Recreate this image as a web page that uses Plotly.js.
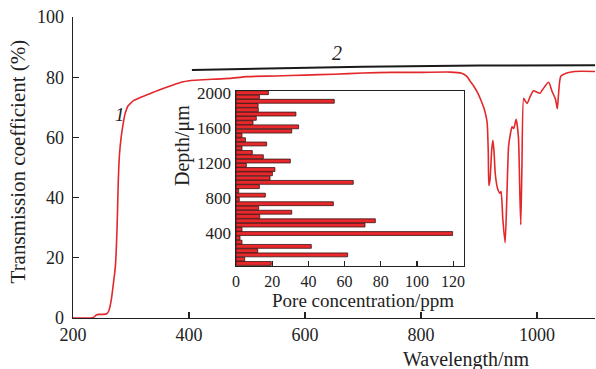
<!DOCTYPE html>
<html>
<head>
<meta charset="utf-8">
<script src="https://cdn.plot.ly/plotly-3.0.1.min.js"></script>
<style>html,body{margin:0;padding:0;background:#fff;}#chart{width:596px;height:369px;}</style>
</head>
<body>
<div id="chart"></div>
<script>
// Curve 1: transmission spectrum
var wavelength1 = [200,230,236,240,245,252,258,262,266,270,273,276,278,280,283,286,290,295,300,305,315,330,345,360,375,390,410,440,470,500,550,600,650,700,750,800,850,870,879,885,891,898,903,908,911,914,916,917,919,922,924,926,928,932,936,938,941,945,948,951,954,957,960,964,968,970,972,974,977,980,983,988,994,1000,1005,1010,1020,1026,1032,1035,1037,1041,1050,1065,1100];
var transmission1 = [0,0,0.3,1.0,1.2,1.2,1.4,2.5,6,12,17,30,45,54,60,64,68,70.5,71.5,72.3,73.2,74.3,75.5,76.6,77.6,78.5,79.0,79.3,79.6,80.2,80.4,80.7,81.0,81.4,81.6,81.6,81.7,81.3,80.3,78.6,77.0,74.7,72.5,70,68,65,55,44,46,56,59,55,48,43,41.5,42,33,25,40,57,61,63.5,63,66,60,45,31,50,73,72,71.3,73.5,75.5,75,74.7,76,78.3,75.3,72.6,69.5,74,80.3,81.3,81.9,81.9];
// Curve 2
var wavelength2 = [405,550,700,900,1100];
var transmission2 = [82.4,83.0,83.5,83.9,84.0];
// Inset: pore concentration vs depth
var depth = [48,97,146,194,243,292,341,390,438,487,536,585,634,682,731,780,829,878,926,975,1024,1073,1122,1170,1219,1268,1317,1366,1414,1463,1512,1561,1610,1658,1707,1756,1805,1854,1902,1951,2000];
var poreConc = [19.5,4.8,61.7,12.0,41.6,3.3,2.2,119.7,3.3,71.3,77.0,13.1,30.8,12.5,53.8,1.8,16.2,1.5,12.9,64.8,18.8,20.1,21.5,5.7,30.0,15.1,9.0,3.3,16.9,5.2,3.3,30.8,34.6,9.4,11.2,33.1,12.3,12.2,54.3,12.9,17.9];
var xTicks = [200,400,600,800,1000];
var yTicks = [0,20,40,60,80,100];
var insetXTicks = [0,20,40,60,80,100,120];
var insetYTicks = [400,800,1200,1600,2000];

var serif = 'Liberation Serif, Times New Roman, serif';
var ink = '#222';

var traces = [
  {x: wavelength1, y: transmission1, type: 'scatter', mode: 'lines',
   line: {color: '#e3282c', width: 1.6, shape: 'spline', smoothing: 0.6}, xaxis: 'x', yaxis: 'y', hoverinfo: 'skip'},
  {x: wavelength2, y: transmission2, type: 'scatter', mode: 'lines',
   line: {color: '#1a1a1a', width: 2}, xaxis: 'x', yaxis: 'y', hoverinfo: 'skip'},
  {x: poreConc, y: depth, type: 'bar', orientation: 'h', xaxis: 'x2', yaxis: 'y2',
   marker: {color: '#e8282b', line: {color: '#3a1414', width: 0.8}}, hoverinfo: 'skip'}
];

var layout = {
  width: 596, height: 369,
  margin: {l: 73, r: 1, t: 17, b: 51},
  paper_bgcolor: '#fff', plot_bgcolor: 'rgba(0,0,0,0)',
  showlegend: false,
  bargap: 0.08,
  font: {family: serif, color: ink, size: 19},
  xaxis: {range: [200, 1100], tickvals: xTicks, ticks: 'inside', ticklen: 6, tickwidth: 1.2, tickcolor: ink,
          showline: true, linecolor: ink, linewidth: 1.3, showgrid: false, zeroline: false,
          tickfont: {family: serif, size: 18, color: ink}, domain: [0, 1]},
  yaxis: {range: [0, 100], tickvals: yTicks, ticks: 'inside', ticklen: 6, tickwidth: 1.2, tickcolor: ink,
          showline: true, linecolor: ink, linewidth: 1.3, showgrid: false, zeroline: false, ticklabelstandoff: 4,
          tickfont: {family: serif, size: 18, color: ink}, domain: [0, 1]},
  xaxis2: {range: [0, 126], tickvals: insetXTicks, ticks: 'inside', ticklen: 5, tickwidth: 1.2, tickcolor: ink,
           showline: true, mirror: true, linecolor: ink, linewidth: 1.5, showgrid: false, zeroline: false,
           tickfont: {family: serif, size: 16, color: ink}, domain: [0.3123, 0.749], anchor: 'y2'},
  yaxis2: {range: [19, 2019], tickvals: insetYTicks, ticks: '', showline: true, mirror: true,
           linecolor: ink, linewidth: 1.5, showgrid: false, zeroline: false,
           tickfont: {family: serif, size: 17, color: ink}, domain: [0.1728, 0.754], anchor: 'x2'},
  annotations: [
    {text: 'Transmission coefficient (%)', xref: 'paper', yref: 'paper', x: -0.1054, y: 0.52,
     textangle: -90, showarrow: false, xanchor: 'center', yanchor: 'middle', font: {family: serif, size: 21, color: ink}},
    {text: 'Wavelength/nm', xref: 'paper', yref: 'paper', x: 0.753, y: -0.1395,
     showarrow: false, xanchor: 'center', yanchor: 'middle', font: {family: serif, size: 20, color: ink}},
    {text: 'Depth/μm', xref: 'paper', yref: 'paper', x: 0.2107, y: 0.5748, textangle: -90,
     showarrow: false, xanchor: 'center', yanchor: 'middle', font: {family: serif, size: 20, color: ink}},
    {text: 'Pore concentration/ppm', xref: 'paper', yref: 'paper', x: 0.5556, y: 0.0598,
     showarrow: false, xanchor: 'center', yanchor: 'middle', font: {family: serif, size: 19, color: ink}},
    {text: '<i>1</i>', xref: 'x', yref: 'y', x: 281.6, y: 67.5, showarrow: false,
     xanchor: 'center', yanchor: 'middle', font: {family: serif, size: 19, color: ink}},
    {text: '<i>2</i>', xref: 'x', yref: 'y', x: 655.7, y: 88.1, showarrow: false,
     xanchor: 'center', yanchor: 'middle', font: {family: serif, size: 20, color: ink}}
  ]
};

Plotly.newPlot('chart', traces, layout, {staticPlot: true, displayModeBar: false});
</script>
</body>
</html>
